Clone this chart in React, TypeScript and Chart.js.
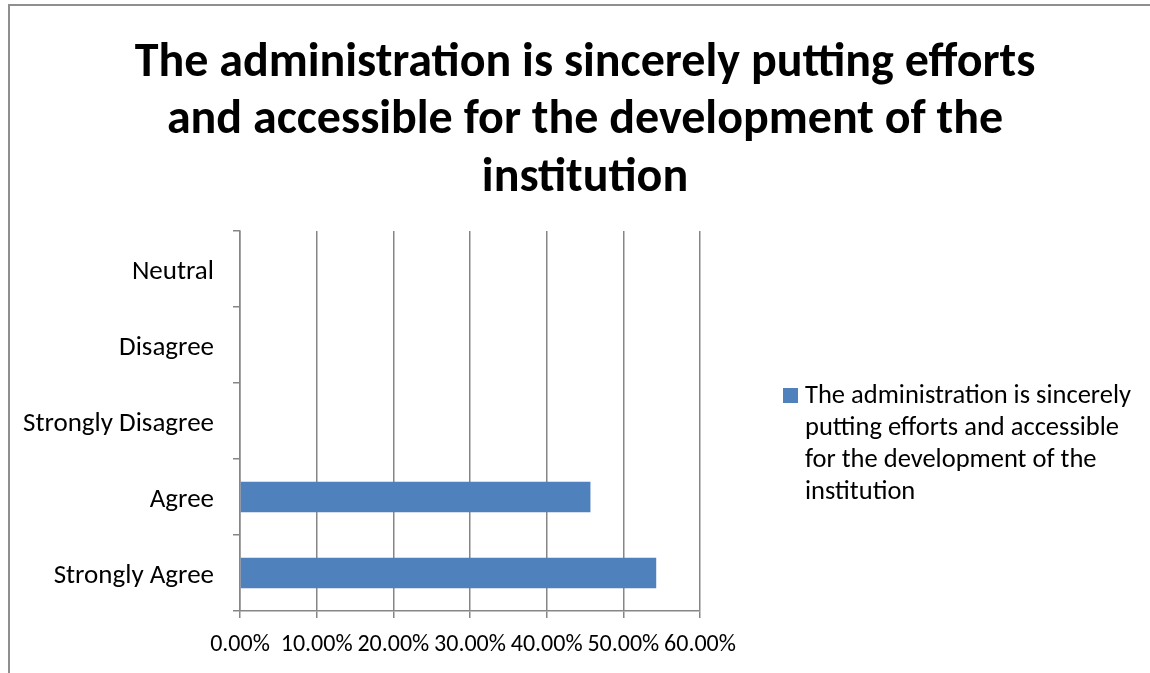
import React, { useEffect, useRef } from "react";
import { Chart, registerables } from "chart.js";

Chart.register(...registerables);

const categories = ["Strongly Agree", "Agree", "Strongly Disagree", "Disagree", "Neutral"];
const values = [54.29, 45.71, 0, 0, 0];
const seriesName =
  "The administration is sincerely putting efforts and accessible for the development of the institution";
const titleLines = [
  "The administration is sincerely putting efforts",
  "and accessible for the development of the",
  "institution",
];
const legendLines = [
  "The administration is sincerely",
  "putting efforts and accessible",
  "for the development of the",
  "institution",
];
const xMin = 0;
const xMax = 60;
const xStep = 10;

const FONT = "Carlito, Lato, 'Liberation Sans', sans-serif";
const BAR_COLOR = "#4F81BD";
const GRID_COLOR = "#868686";

const sideLegend = {
  id: "sideLegend",
  afterDraw(chart: any) {
    const ctx = chart.ctx;
    const area = chart.chartArea;
    const x0 = area.right + 83;
    const y0 = area.top + 157;
    ctx.save();
    ctx.fillStyle = BAR_COLOR;
    ctx.fillRect(x0, y0, 15, 15);
    ctx.fillStyle = "#000";
    ctx.font = `26.5px ${FONT}`;
    ctx.textBaseline = "middle";
    ctx.textAlign = "left";
    legendLines.forEach((line, i) => {
      ctx.fillText(line, x0 + 22, y0 + 8 + i * 32);
    });
    ctx.restore();
  },
};

export default function App() {
  const ref = useRef<HTMLCanvasElement | null>(null);

  useEffect(() => {
    if (!ref.current) return;
    const chart = new Chart(ref.current, {
      type: "bar",
      data: {
        labels: categories,
        datasets: [
          {
            label: seriesName,
            data: values,
            backgroundColor: BAR_COLOR,
            borderWidth: 0,
            barPercentage: 0.4,
            categoryPercentage: 1,
          },
        ],
      },
      options: {
        indexAxis: "y",
        animation: false,
        responsive: false,
        maintainAspectRatio: false,
        layout: { padding: { left: 20, right: 0, top: 0, bottom: 0 } },
        plugins: {
          legend: { display: false },
          tooltip: { enabled: false },
          title: {
            display: true,
            text: titleLines,
            color: "#000",
            font: { family: FONT, size: 48, weight: "bold", lineHeight: 1.198 },
            padding: { top: 35, bottom: 23.5 },
          },
        },
        scales: {
          x: {
            type: "linear",
            position: "bottom",
            min: xMin,
            max: xMax,
            ticks: {
              stepSize: xStep,
              autoSkip: false,
              maxRotation: 0,
              color: "#000",
              padding: 13,
              font: { family: FONT, size: 24 },
              callback: (v: any) => Number(v).toFixed(2) + "%",
            },
            grid: { color: GRID_COLOR, lineWidth: 1.5, tickLength: 7 },
            border: { color: GRID_COLOR, width: 1.5 },
            afterFit: (s: any) => {
              s.height = 62;
            },
          },
          y: {
            type: "category",
            position: "left",
            reverse: true,
            ticks: {
              color: "#000",
              padding: 19,
              labelOffset: 3,
              font: { family: FONT, size: 27 },
            },
            grid: {
              offset: true,
              drawOnChartArea: false,
              color: GRID_COLOR,
              lineWidth: 1.5,
              tickLength: 7,
            },
            border: { color: GRID_COLOR, width: 1.5 },
            afterFit: (s: any) => {
              s.width = 220;
            },
          },
          legendSpace: {
            type: "linear",
            position: "right",
            display: true,
            grid: { display: false },
            ticks: { display: false },
            border: { display: false },
            afterFit: (s: any) => {
              s.width = 450;
            },
          },
        },
      },
      plugins: [sideLegend],
    });
    return () => chart.destroy();
  }, []);

  return (
    <div style={{ position: "fixed", left: 0, top: 0, width: 1150, height: 673, background: "#fff", overflow: "hidden" }}>
      <canvas ref={ref} width={1150} height={673} style={{ position: "absolute", left: 0, top: 0, width: 1150, height: 673 }} />
      <div
        style={{
          position: "absolute",
          left: 8,
          top: 4,
          width: 1200,
          height: 700,
          borderLeft: "2px solid #8f8f8f",
          borderTop: "2px solid #8f8f8f",
          pointerEvents: "none",
        }}
      />
    </div>
  );
}
